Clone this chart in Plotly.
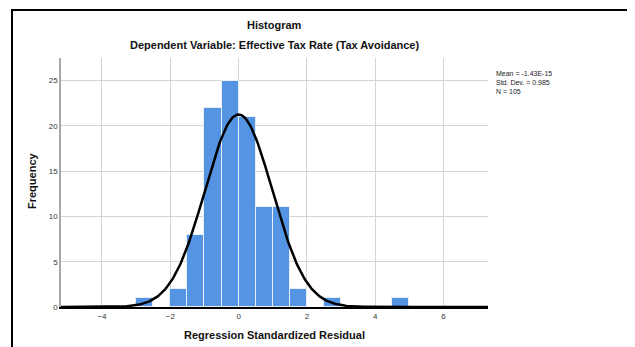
import numpy as np
import plotly.graph_objects as go

# Histogram bins (left edges, width 0.5) and counts
bin_left = [-3.0, -2.0, -1.5, -1.0, -0.5, 0.0, 0.5, 1.0, 1.5, 2.5, 4.5]
counts = [1, 2, 8, 22, 25, 21, 11, 11, 2, 1, 1]
bin_width = 0.5
mean_val = -1.43e-15
std_val = 0.985
n_val = 105

x_ticks = [-4, -2, 0, 2, 4, 6]
y_ticks = [0, 5, 10, 15, 20, 25]

FONT = "Liberation Sans, Arial, sans-serif"

# page body has an 8px margin; figure coordinates are offset by it
OFF = 8
W, H = 635 - OFF, 347 - OFF
PL, PR, PT, PB = 61 - OFF, 488 - OFF, 58 - OFF, 307 - OFF
PW, PH = PR - PL, PB - PT

centers = [b + bin_width / 2 for b in bin_left]

xs = np.linspace(-5.2, 7.3, 400)
ys = n_val * bin_width / (std_val * np.sqrt(2 * np.pi)) * np.exp(-0.5 * ((xs - mean_val) / std_val) ** 2)

fig = go.Figure()
fig.add_trace(go.Bar(
    x=centers, y=counts, width=bin_width,
    marker=dict(color="#5594E2", line=dict(color="#E8EEF6", width=1)),
    hoverinfo="skip",
))
fig.add_trace(go.Scatter(
    x=xs, y=ys, mode="lines",
    line=dict(color="black", width=2.5),
    hoverinfo="skip",
))


def py(ypix):
    return (PB - (ypix - OFF)) / PH


def px(xpix):
    return ((xpix - OFF) - PL) / PW


fig.update_layout(
    width=W, height=H,
    margin=dict(l=PL, r=W - PR, t=PT, b=H - PB, pad=0, autoexpand=False),
    paper_bgcolor="white", plot_bgcolor="white",
    showlegend=False,
    font=dict(family=FONT, color="#222"),
    bargap=0,
    xaxis=dict(
        range=[-5.2, 7.3], tickvals=x_ticks,
        showgrid=True, gridcolor="#D4D4D4", gridwidth=1,
        zeroline=False, automargin=False,
        showline=True, linecolor="black", linewidth=2,
        ticks="", tickfont=dict(size=8, color="#333", family=FONT),
    ),
    yaxis=dict(
        range=[0, 27.5], tickvals=y_ticks,
        showgrid=True, gridcolor="#D4D4D4", gridwidth=1,
        zeroline=False, automargin=False,
        showline=True, linecolor="#A8A8A8", linewidth=1.5,
        ticks="", tickfont=dict(size=8, color="#333", family=FONT),
    ),
    annotations=[
        dict(text="<b>Histogram</b>", xref="paper", yref="paper",
             x=0.5, y=py(25), xanchor="center", yanchor="middle",
             showarrow=False, font=dict(size=11, color="#111", family=FONT)),
        dict(text="<b>Dependent Variable: Effective Tax Rate (Tax Avoidance)</b>",
             xref="paper", yref="paper",
             x=0.5, y=py(45), xanchor="center", yanchor="middle",
             showarrow=False, font=dict(size=11, color="#111", family=FONT)),
        dict(text="<b>Regression Standardized Residual</b>",
             xref="paper", yref="paper",
             x=0.5, y=py(335), xanchor="center", yanchor="middle",
             showarrow=False, font=dict(size=11, color="#111", family=FONT)),
        dict(text="<b>Frequency</b>", textangle=-90,
             xref="paper", yref="paper",
             x=px(32), y=py(180), xanchor="center", yanchor="middle",
             showarrow=False, font=dict(size=11, color="#111", family=FONT)),
        dict(text=f"Mean = -1.43E-15<br>Std. Dev. = {std_val}<br>N = {n_val}",
             xref="paper", yref="paper",
             x=px(494), y=py(68), xanchor="left", yanchor="top",
             align="left", showarrow=False,
             font=dict(size=7, color="#222", family=FONT)),
    ],
    shapes=[
        dict(type="rect", xref="paper", yref="paper",
             x0=px(12), x1=px(700), y0=py(400), y1=py(10),
             line=dict(color="black", width=2), fillcolor="rgba(0,0,0,0)",
             layer="above"),
    ],
)

fig.write_html("out.html")
